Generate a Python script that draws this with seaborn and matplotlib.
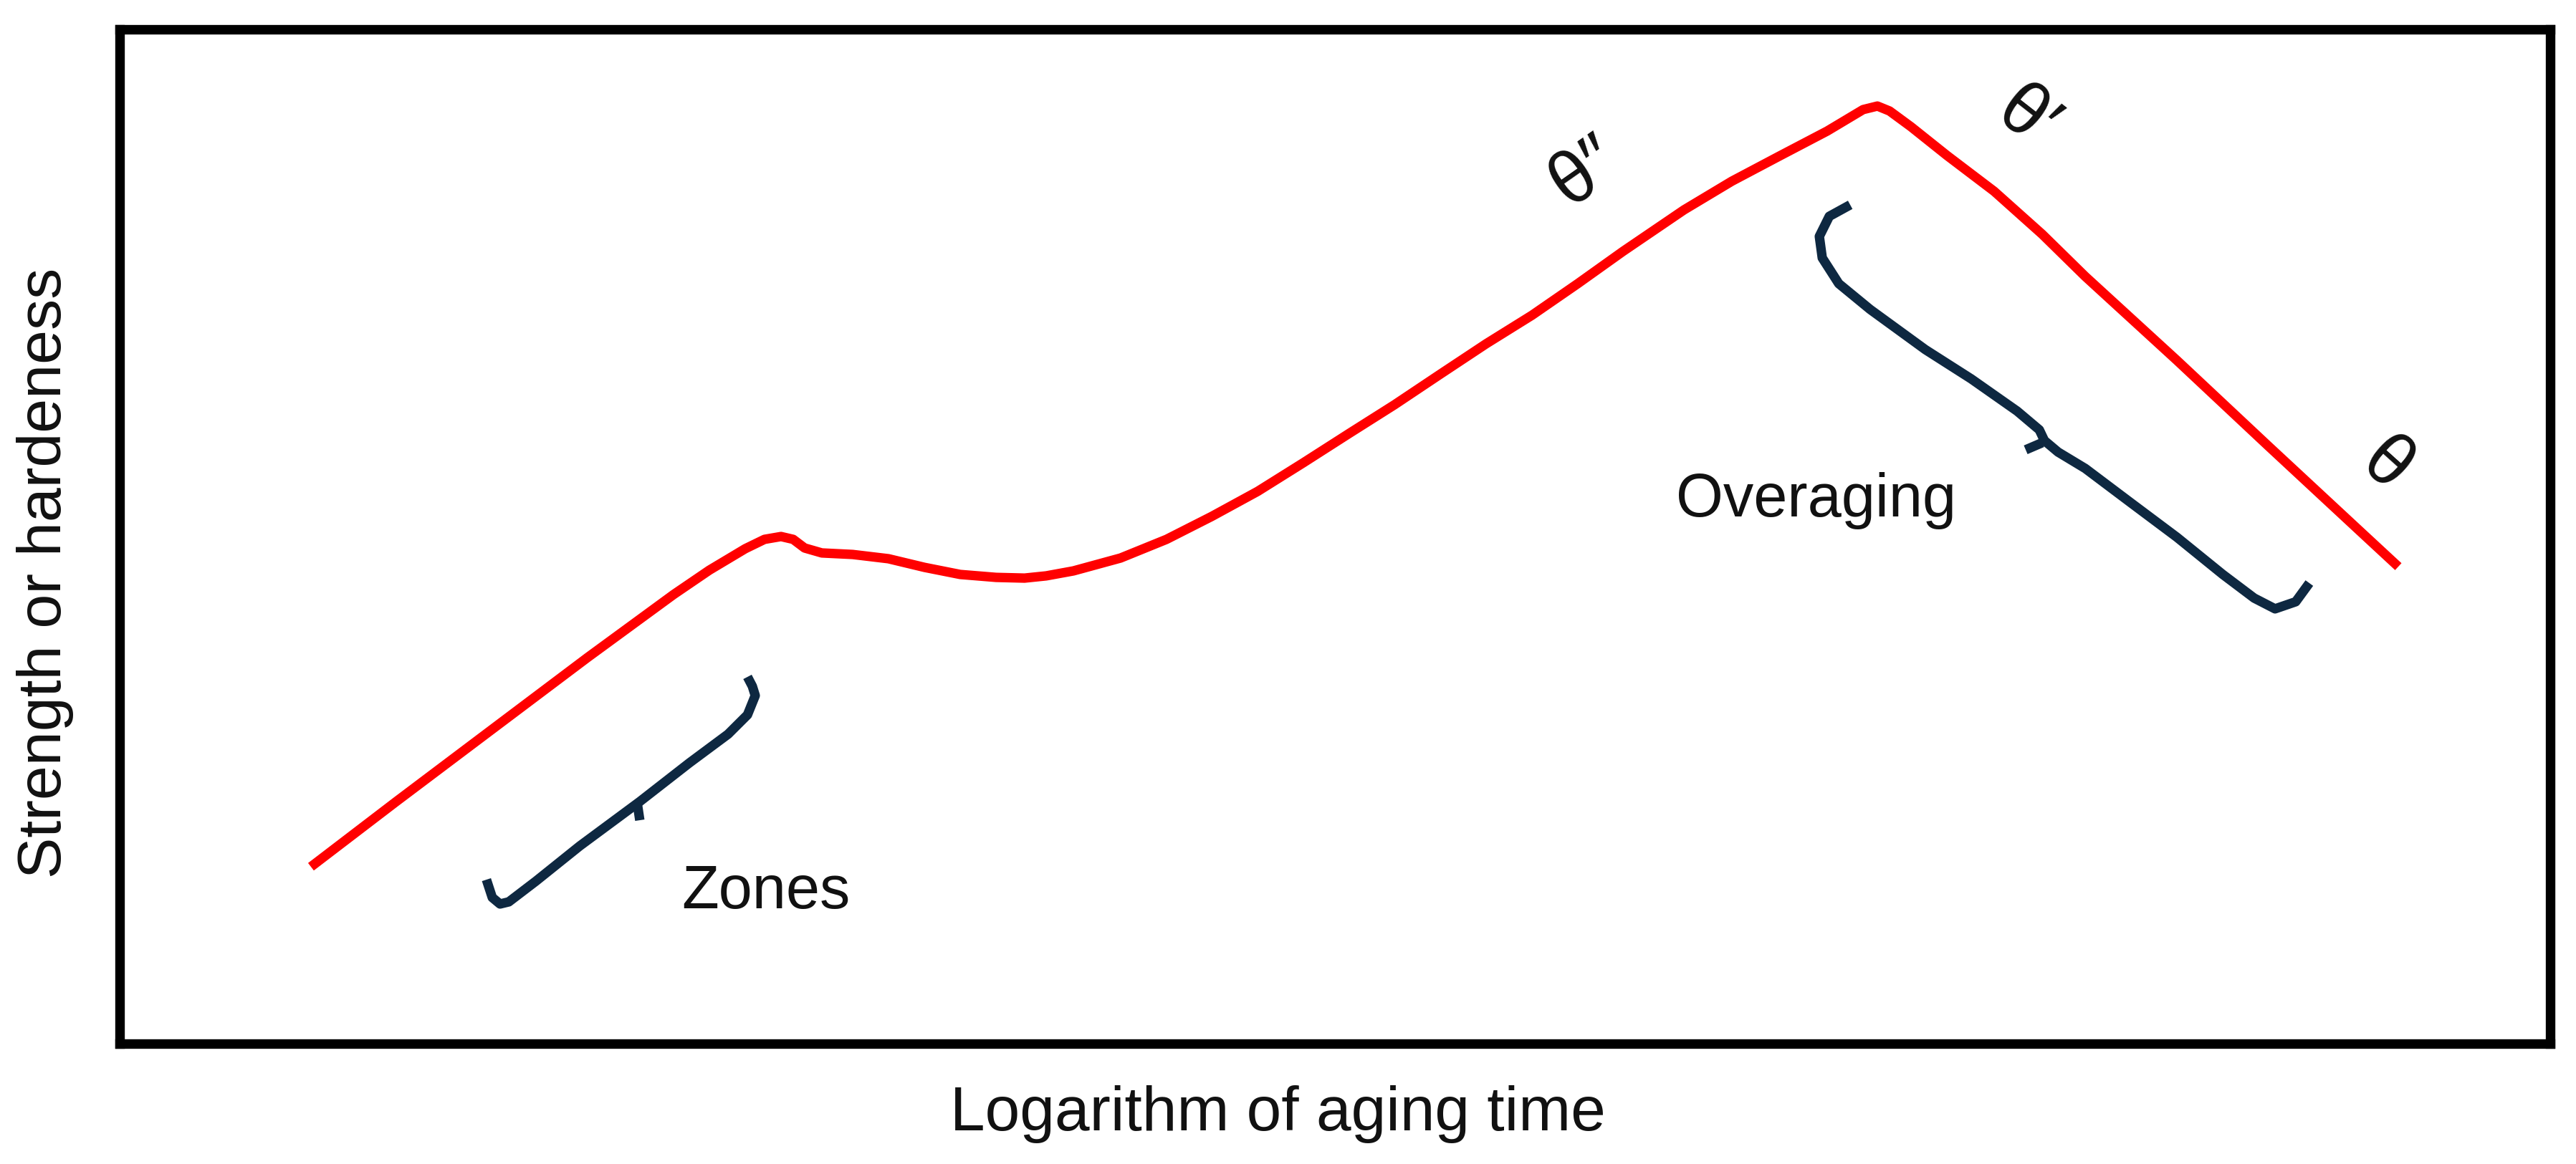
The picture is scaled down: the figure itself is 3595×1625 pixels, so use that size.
import matplotlib
matplotlib.use("Agg")
import matplotlib.pyplot as plt
import seaborn as sns
import pandas as pd

# Red strength curve (schematic values, 0-100 scale)
curve_x = [7.87, 11.38, 15.33, 19.25, 22.79, 24.26, 25.74, 26.53, 27.21, 27.71, 28.18, 28.89,
           30.16, 31.63, 33.11, 34.58, 36.06, 37.23, 38.12, 39.24, 41.18, 43.07, 44.93, 46.82,
           48.70, 50.59, 52.45, 54.33, 56.22, 58.11, 59.99, 61.85, 64.36, 66.33, 68.28, 70.25,
           71.73, 72.32, 72.82, 73.70, 75.18, 77.12, 79.10, 80.87, 84.64, 88.38, 92.16, 93.75]
curve_y = [17.44, 23.87, 31.00, 38.07, 44.28, 46.68, 48.80, 49.72, 50.00, 49.72, 48.87, 48.38,
           48.23, 47.81, 46.96, 46.26, 45.97, 45.90, 46.12, 46.61, 47.88, 49.72, 51.98, 54.45,
           57.27, 60.17, 62.99, 66.00, 69.00, 71.82, 74.93, 78.11, 82.20, 85.03, 87.50, 89.97,
           92.09, 92.44, 91.95, 90.40, 87.57, 84.04, 79.80, 75.64, 67.37, 58.97, 50.56, 47.03]

# "Zones" bracket
zones_x = [25.83, 26.03, 26.15, 25.83, 25.03, 23.44, 21.40, 18.93, 17.13, 16.01, 15.65, 15.33, 15.09]
zones_y = [36.16, 35.24, 34.32, 32.42, 30.51, 27.68, 23.87, 19.49, 16.03, 13.98, 13.77, 14.41, 16.17]
zones_nib_x = [21.29, 21.40]
zones_nib_y = [23.80, 22.03]

# "Overaging" bracket
over_x = [71.20, 70.34, 69.93, 70.05, 70.73, 72.02, 74.29, 76.18, 78.07, 78.98, 79.19, 79.75,
          80.87, 82.75, 84.64, 86.53, 87.82, 88.68, 89.53, 90.09]
over_y = [82.70, 81.57, 79.59, 77.47, 74.93, 72.39, 68.43, 65.54, 62.36, 60.52, 59.46, 58.33,
          56.71, 53.32, 49.93, 46.26, 43.93, 42.87, 43.57, 45.41]
over_nib_x = [79.10, 78.42]
over_nib_y = [59.25, 58.55]

# Labels
labels_text = ["Zones", "Overaging"]
labels_x = [23.11, 64.03]
labels_y = [13.35, 51.98]
phase_text = ["\u03b8\u2033", "\u03b8\u2032", "\u03b8"]
phase_x = [60.29, 78.45, 93.25]
phase_y = [85.95, 91.17, 56.99]
phase_rot = [35, -38, -42]

x_label = "Logarithm of aging time"
y_label = "Strength or hardeness"

sns.set_theme(style="white")
plt.rcParams["font.family"] = ["Liberation Sans", "DejaVu Sans"]

fig = plt.figure(figsize=(35.95, 16.25), dpi=100)
ax = fig.add_axes([167 / 3595, 1 - 1457 / 1625, (3559 - 167) / 3595, (1457 - 41) / 1625])

red = "#FF0000"
navy = "#0E2841"

def draw(xs, ys, color, lw):
    df = pd.DataFrame({"x": xs, "y": ys})
    sns.lineplot(data=df, x="x", y="y", sort=False, estimator=None, color=color,
                 linewidth=lw, ax=ax, solid_joinstyle="round", solid_capstyle="butt")

draw(curve_x, curve_y, red, 9.5)
draw(zones_x, zones_y, navy, 9.5)
draw(zones_nib_x, zones_nib_y, navy, 9.5)
draw(over_x, over_y, navy, 9.5)
draw(over_nib_x, over_nib_y, navy, 9.5)

for t, x, y in zip(labels_text, labels_x, labels_y):
    ax.text(x, y, t, fontsize=61, ha="left", va="baseline", color="#111111")

for t, x, y, r in zip(phase_text, phase_x, phase_y, phase_rot):
    ax.text(x, y, t, fontsize=74, ha="center", va="center", rotation=r,
            rotation_mode="anchor", color="#111111")

ax.set_xlim(0, 100)
ax.set_ylim(0, 100)
ax.set_xticks([])
ax.set_yticks([])
ax.set_xlabel("")
ax.set_ylabel("")
for s in ax.spines.values():
    s.set_visible(True)
    s.set_color("black")
    s.set_linewidth(9.6)

fig.text(1783 / 3595, 1 - 1578 / 1625, x_label, fontsize=63, ha="center", va="baseline",
         color="#111111")
fig.text(63 / 3595, 1 - 800 / 1625, y_label, fontsize=62, ha="center", va="center",
         rotation=90, color="#111111")

fig.savefig("out.png", dpi=100, facecolor="white")
